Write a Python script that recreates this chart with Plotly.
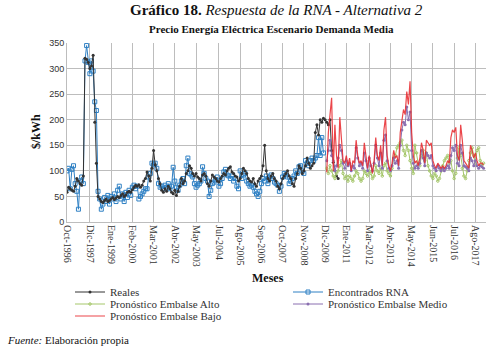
import plotly.graph_objects as go

# Meses desde Oct-1996 (indice 0 = Oct-1996)
tick_labels = ["Oct-1996", "Dic-1997", "Ene-1999", "Feb-2000", "Mar-2001", "Abr-2002",
               "May-2003", "Jul-2004", "Ago-2005", "Sep-2006", "Oct-2007", "Nov-2008",
               "Dic-2009", "Ene-2011", "Mar-2012", "Abr-2013", "May-2014", "Jun-2015",
               "Jul-2016", "Ago-2017"]
meses_es = ["Ene", "Feb", "Mar", "Abr", "May", "Jun", "Jul", "Ago", "Sep", "Oct", "Nov", "Dic"]

reales = [58, 68, 65, 62, 60, 70, 85, 80, 75, 72, 90, 320, 318, 312, 300, 305, 326, 195, 115, 50,
          45, 40, 38, 42, 45, 40, 42, 45, 48, 44, 47, 50, 48, 52, 55, 50, 53, 58, 60, 58,
          63, 68, 72, 70, 73, 68, 72, 80, 85, 98, 90, 80, 105, 140, 112, 100, 85, 75, 62, 58,
          65, 60, 70, 65, 58, 55, 62, 52, 60, 70, 85, 75, 80, 95, 100, 110, 105, 95, 90, 95,
          88, 85, 80, 92, 95, 90, 75, 70, 80, 92, 88, 85, 80, 78, 85, 90, 95, 92, 100, 105,
          108, 98, 95, 90, 88, 80, 85, 95, 105, 100, 95, 85, 80, 78, 85, 75, 70, 80, 85, 90,
          110, 150, 100, 85, 80, 90, 95, 85, 80, 70, 65, 75, 85, 90, 95, 100, 90, 85, 75, 70,
          85, 95, 110, 105, 95, 100, 110, 125, 115, 105, 110, 115, 175, 190, 170, 200, 195, 203, 200, 195,
          190, 200, 140, 117, 100, 90, 85]

encontrados_rna = [100, 105, 65, 103, 110, 75, 60, 25, 80, 88, 75, 315, 345, 312, 290, 315, 295, 235, 218, 60,
                   45, 25, 35, 48, 40, 52, 35, 50, 45, 55, 40, 62, 70, 45, 55, 40, 58, 48, 62, 52,
                   68, 72, 65, 70, 45, 50, 55, 60, 65, 65, 88, 95, 115, 112, 115, 105, 75, 68, 70, 65,
                   72, 68, 75, 65, 70, 107, 80, 68, 62, 72, 80, 85, 75, 110, 125, 95, 92, 88, 75, 68,
                   72, 75, 80, 108, 95, 85, 80, 50, 62, 75, 78, 82, 88, 70, 75, 85, 98, 103, 92, 90,
                   85, 90, 80, 85, 70, 65, 100, 85, 92, 95, 80, 75, 70, 72, 68, 60, 55, 50, 60, 75,
                   85, 80, 90, 75, 88, 92, 85, 78, 75, 72, 60, 70, 88, 95, 92, 88, 75, 80, 85, 90,
                   100, 95, 108, 110, 100, 95, 120, 115, 110, 120, 125, 120, 125, 130, 165, 130, 165, 135]

# Pronosticos desde el indice 159
inicio_pronostico = 159
embalse_alto = [105, 95, 110, 100, 90, 85, 95, 100, 110, 120, 95, 85, 90, 80, 90, 85, 80, 90, 100, 95,
                85, 80, 85, 100, 95, 90, 100, 95, 85, 90, 110, 100, 95, 105, 90, 110, 115, 100, 95, 90,
                105, 125, 130, 145, 150, 155, 160, 140, 130, 150, 140, 120, 105, 95, 150, 135, 115, 110, 130, 140,
                120, 135, 110, 100, 90, 85, 95, 90, 80, 85, 100, 110, 120, 125, 130, 115, 120, 100, 85, 95,
                125, 145, 130, 105, 90, 85, 100, 120, 135, 145, 130, 115, 140, 145, 120, 110, 115]
embalse_medio = [120, 140, 160, 130, 120, 100, 110, 125, 150, 140, 115, 105, 120, 110, 115, 100, 110, 105, 145, 125,
                 110, 115, 105, 135, 120, 100, 125, 110, 100, 115, 150, 125, 110, 135, 105, 160, 170, 120, 105, 100,
                 110, 125, 115, 120, 105, 150, 180, 195, 190, 225, 200, 215, 140, 115, 105, 110, 105, 115, 140, 125,
                 110, 135, 130, 125, 130, 110, 105, 100, 110, 105, 100, 105, 100, 105, 110, 105, 130, 145, 140, 150,
                 115, 110, 150, 135, 110, 108, 105, 100, 125, 120, 110, 120, 110, 105, 110, 108, 105]
embalse_bajo = [97, 175, 210, 243, 100, 190, 130, 105, 205, 160, 120, 115, 130, 110, 125, 100, 120, 115, 160, 130,
                115, 120, 110, 155, 130, 105, 130, 115, 95, 120, 165, 130, 120, 150, 110, 180, 205, 130, 110, 100,
                115, 140, 125, 130, 110, 175, 200, 220, 210, 255, 230, 275, 175, 130, 115, 120, 110, 125, 155, 140,
                115, 160, 155, 150, 155, 120, 110, 105, 115, 110, 105, 110, 105, 110, 120, 115, 165, 180, 175, 185,
                130, 120, 190, 160, 120, 115, 110, 105, 150, 140, 125, 135, 120, 110, 115, 115, 112]


def indice(etiqueta):
    mes, anio = etiqueta.split("-")
    return (int(anio) - 1996) * 12 + meses_es.index(mes) - 9


tick_vals = [indice(t) for t in tick_labels]
x_reales = list(range(len(reales)))
x_rna = list(range(len(encontrados_rna)))
x_pron = list(range(inicio_pronostico, inicio_pronostico + len(embalse_bajo)))

serif = "Liberation Serif"
W, H = 489, 350
L, R, T, B = 67, 3, 43, 128
pw, ph = W - L - R, H - T - B


def px_x(x):
    return (x - L) / pw


def px_y(y):
    return (H - B - y) / ph


fig = go.Figure()
fig.add_trace(go.Scatter(x=x_rna, y=encontrados_rna, name="Encontrados RNA", mode="lines+markers",
                         line=dict(color="#2F80C4", width=1),
                         marker=dict(symbol="square-open", size=4, color="#2F80C4", line=dict(width=1)),
                         legend="legend2"))
fig.add_trace(go.Scatter(x=x_reales, y=reales, name="Reales", mode="lines+markers",
                         line=dict(color="#333333", width=1),
                         marker=dict(symbol="circle", size=3, color="#333333"),
                         legend="legend"))
fig.add_trace(go.Scatter(x=x_pron, y=embalse_alto, name="Pronóstico Embalse Alto", mode="lines+markers",
                         line=dict(color="#A5C76A", width=1),
                         marker=dict(symbol="circle-open", size=2.5, color="#A5C76A", line=dict(width=1)),
                         legend="legend3"))
fig.add_trace(go.Scatter(x=x_pron, y=embalse_medio, name="Pronóstico Embalse Medio", mode="lines+markers",
                         line=dict(color="#8A6FB0", width=1),
                         marker=dict(symbol="circle", size=3, color="#8A6FB0"),
                         legend="legend4"))
fig.add_trace(go.Scatter(x=x_pron, y=embalse_bajo, name="Pronóstico Embalse Bajo", mode="lines",
                         line=dict(color="#E8262B", width=1.2), opacity=0.85,
                         legend="legend5"))


def leyenda(x, y):
    return dict(x=px_x(x), y=px_y(y), xanchor="left", yanchor="middle", itemwidth=30, borderwidth=0,
                font=dict(family=serif, size=11, color="#333333"), bgcolor="rgba(0,0,0,0)")


fig.update_layout(
    width=W, height=H,
    margin=dict(l=L, r=R, t=T, b=B, autoexpand=False),
    paper_bgcolor="white", plot_bgcolor="white",
    font=dict(family=serif, color="#222222"),
    showlegend=True,
    legend=leyenda(70, 292),
    legend2=leyenda(288, 292),
    legend3=leyenda(70, 304),
    legend4=leyenda(288, 304),
    legend5=leyenda(70, 316),
    xaxis=dict(range=[0, 256.5], tickmode="array", tickvals=tick_vals, ticktext=tick_labels,
               tickangle=90, tickfont=dict(family=serif, size=10, color="#333333"),
               showgrid=True, gridcolor="#BDBDBD", gridwidth=1, zeroline=False,
               showline=True, linecolor="#BDBDBD", ticks=""),
    yaxis=dict(range=[0, 350], tickvals=[0, 50, 100, 150, 200, 250, 300, 350],
               tickfont=dict(family="Liberation Sans", size=9, color="#333333"),
               showgrid=True, gridcolor="#BDBDBD", gridwidth=1, zeroline=False,
               showline=True, linecolor="#BDBDBD", ticks=""),
)

textos = [
    ("<b>Gráfico 18.</b> <i>Respuesta de la RNA - Alternativa 2</i>", 276, 10, 15, "center", 0),
    ("<b>Precio Energía Eléctrica Escenario Demanda Media</b>", 271, 29, 11, "center", 0),
    ("<b>$/kWh</b>", 36, 132, 12, "center", -90),
    ("<b>Meses</b>", 268, 278, 12, "center", 0),
    ("<i>Fuente:</i> Elaboración propia", 5, 340, 11, "left", 0),
]
for texto, x, y, size, anchor, ang in textos:
    fig.add_annotation(text=texto, xref="paper", yref="paper", x=px_x(x), y=px_y(y), showarrow=False,
                       xanchor=anchor, yanchor="middle", textangle=ang,
                       font=dict(family=serif, size=size, color="#111111"))

fig.write_html("out.html", config={"displayModeBar": False},
               post_script="document.body.style.margin='0';")
